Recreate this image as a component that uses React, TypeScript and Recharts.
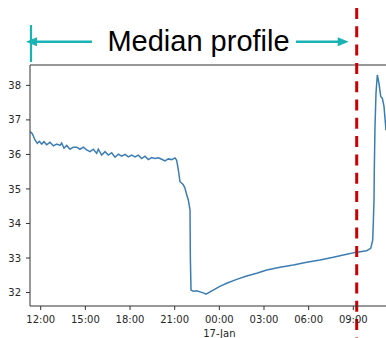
import { ComposedChart, Line, XAxis, YAxis, ReferenceLine, ReferenceArea } from "recharts";

// hours since 16-Jan 00:00
const hours = [
  11.281, 11.438, 11.617, 11.774, 11.908, 12.065, 12.222, 12.401, 12.625, 12.848,
  13.073, 13.297, 13.409, 13.565, 13.745, 13.968, 14.192, 14.416, 14.64, 14.864,
  15.088, 15.312, 15.536, 15.76, 15.871, 16.096, 16.319, 16.543, 16.768, 16.991,
  17.215, 17.439, 17.663, 17.887, 18.111, 18.335, 18.559, 18.783, 19.007, 19.23,
  19.455, 19.678, 19.902, 20.126, 20.35, 20.574, 20.798, 21.022, 21.134, 21.246,
  21.358, 21.582, 21.694, 21.806, 21.918, 22.03, 22.052, 22.097, 22.251, 22.48,
  22.701, 22.923, 23.104, 23.373, 23.709, 23.998, 24.495, 25.167, 25.839, 26.51,
  27.182, 28.076, 28.969, 29.869, 30.763, 31.656, 32.556, 33.228, 33.9, 34.169,
  34.303, 34.343, 34.39, 34.41, 34.457, 34.524, 34.612, 34.726, 34.84, 34.948,
  35.062, 35.196,
];

const temps = [
  36.66, 36.6, 36.42, 36.32, 36.38, 36.3, 36.37, 36.28, 36.35, 36.25,
  36.3, 36.26, 36.33, 36.18, 36.26, 36.15, 36.21, 36.21, 36.15, 36.21,
  36.13, 36.08, 36.15, 36.03, 36.15, 35.98, 36.08, 35.98, 36.05, 35.92,
  36.01, 35.95, 36.0, 35.93, 35.98, 35.93, 35.98, 35.88, 35.95, 35.85,
  35.91, 35.88, 35.9, 35.86, 35.81, 35.87, 35.85, 35.9, 35.83, 35.55,
  35.21, 35.12, 35.02, 34.83, 34.68, 34.39, 33.04, 32.07, 32.04, 32.05,
  32.02, 31.99, 31.95, 32.02, 32.1, 32.17, 32.27, 32.38, 32.48, 32.56,
  32.65, 32.73, 32.8, 32.88, 32.94, 33.02, 33.11, 33.17, 33.21, 33.28,
  33.52, 34.0, 34.68, 35.55, 36.8, 37.77, 38.3, 38.06, 37.68, 37.63,
  37.39, 36.7,
];

const xTicks = [12, 15, 18, 21, 24, 27, 30, 33];
const xTickLabels = ["12:00", "15:00", "18:00", "21:00", "00:00", "03:00", "06:00", "09:00"];
const dayLabel = "17-Jan";
const yTicks = [32, 33, 34, 35, 36, 37, 38];

const xDomain = [11.281, 35.196];
const yDomain = [31.61, 38.59];
const profileStart = 11.348;
const profileEnd = 33.228;

const data = hours.map((h, i) => ({ h, temp: temps[i] }));

const tickFont = { fontFamily: "DejaVu Sans", fontSize: 10, fill: "#262626" };
const spine = "#333";
const cyan = "#1ab3b3";

const XTick = ({ x, y, payload }: any) => {
  const i = xTicks.indexOf(payload.value);
  return (
    <g>
      <text x={x} y={y} dy="0.71em" textAnchor="middle" {...tickFont}>
        {xTickLabels[i]}
      </text>
      {payload.value === 24 && (
        <text x={x} y={y + 21} textAnchor="middle" {...tickFont}>
          {dayLabel}
        </text>
      )}
    </g>
  );
};

const ProfileLabel = (p: any) => {
  const left = p.x;
  const right = p.x + p.width;
  const ay = 41.7;
  const lt = left - 5;
  const rt = right - 8;
  return (
    <g>
      <line x1={left} x2={left} y1={25} y2={62} stroke={cyan} strokeWidth={2.2} />
      <line x1={lt + 8} x2={92} y1={ay} y2={ay} stroke={cyan} strokeWidth={2.4} />
      <polygon points={`${lt},${ay} ${lt + 11},${ay - 4.5} ${lt + 11},${ay + 4.5}`} fill={cyan} />
      <line x1={296} x2={rt - 8} y1={ay} y2={ay} stroke={cyan} strokeWidth={2.4} />
      <polygon points={`${rt},${ay} ${rt - 11},${ay - 4.5} ${rt - 11},${ay + 4.5}`} fill={cyan} />
      <text x={198.5} y={51} textAnchor="middle" fontFamily="Liberation Sans" fontSize={29} fill="#000">
        Median profile
      </text>
    </g>
  );
};

export default function App() {
  return (
    <div style={{ position: "absolute", left: 0, top: 0, width: 386, height: 338, overflow: "hidden", background: "#fff" }}>
      <ComposedChart width={386} height={338} data={data} margin={{ top: 65, right: 0, bottom: 0, left: 0 }}>
        <XAxis
          dataKey="h"
          type="number"
          domain={xDomain}
          allowDataOverflow
          ticks={xTicks}
          interval={0}
          height={32}
          tickSize={4}
          tickMargin={6}
          axisLine={{ stroke: spine }}
          tickLine={{ stroke: spine }}
          tick={<XTick />}
        />
        <YAxis
          type="number"
          domain={yDomain}
          allowDataOverflow
          ticks={yTicks}
          interval={0}
          width={30}
          tickSize={4}
          tickMargin={5}
          axisLine={{ stroke: spine }}
          tickLine={{ stroke: spine }}
          tick={tickFont}
        />
        <ReferenceLine y={yDomain[1]} stroke={spine} />
        <ReferenceArea x1={profileStart} x2={profileEnd} shape={(p: any) => <ProfileLabel {...p} />} />
        <Line
          dataKey="temp"
          type="linear"
          stroke="#3b7db3"
          strokeWidth={1.5}
          dot={false}
          isAnimationActive={false}
        />
        <ReferenceLine
          x={profileEnd}
          shape={(p: any) => (
            <line x1={p.x1} x2={p.x2} y1={8} y2={338} stroke="#cc0000" strokeWidth={3} strokeDasharray="11 7.3" />
          )}
        />
      </ComposedChart>
    </div>
  );
}
